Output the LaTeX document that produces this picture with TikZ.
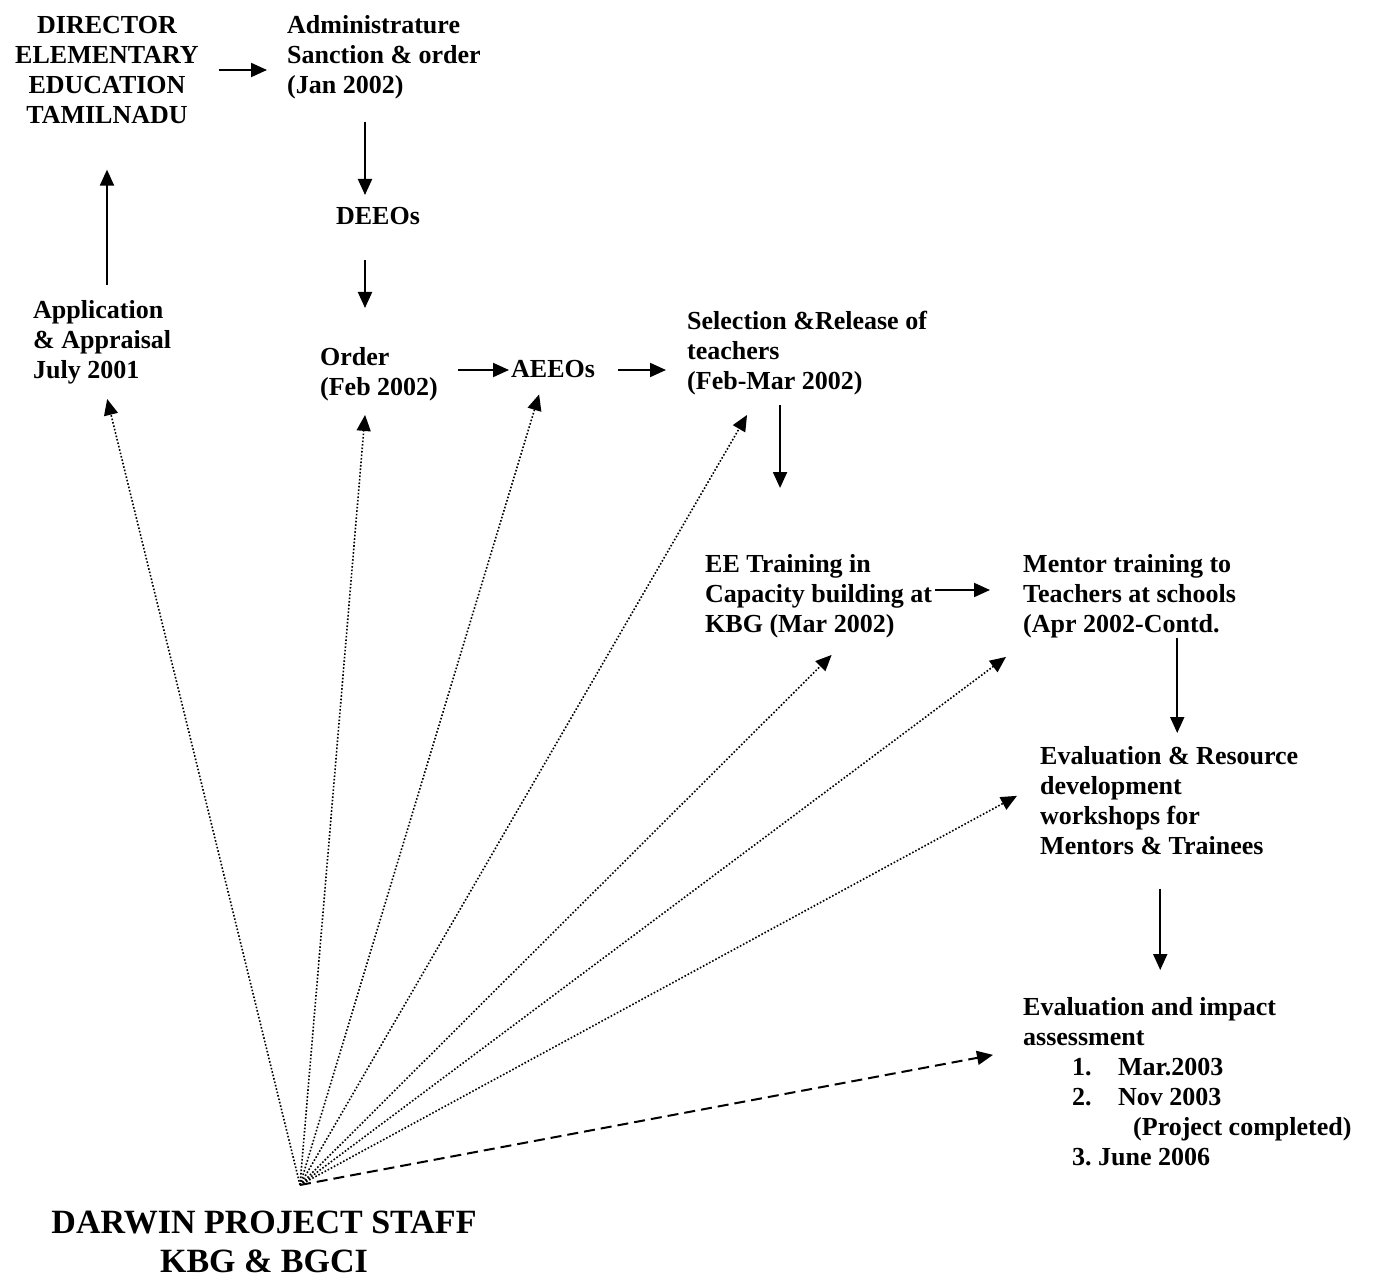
\documentclass[tikz,border=0pt]{standalone}
\usepackage{fontspec}
\setmainfont{Liberation Serif}
\usetikzlibrary{arrows.meta}
\begin{document}
\frenchspacing
\begin{tikzpicture}[x=1pt,y=-1pt,
  txt/.style={inner sep=0pt,align=left,anchor=north west,
    font=\fontsize{26}{30}\selectfont\bfseries},
  ctxt/.style={txt,align=center,anchor=north},
  big/.style={inner sep=0pt,align=center,anchor=north,
    font=\fontsize{34}{39}\selectfont\bfseries},
  tip/.style={-{Triangle[length=16pt,width=14pt]}},
  flow/.style={tip,line width=2pt},
  link/.style={tip,line width=1.6pt,dash pattern=on 1.6pt off 1.9pt},
  dlink/.style={tip,line width=2pt,dash pattern=on 11pt off 6pt}]
\useasboundingbox (0,0) rectangle (1377,1284);

% text blocks
\node[ctxt] (dir) at (107,12) {\strut DIRECTOR\\ELEMENTARY\\EDUCATION\\TAMILNADU};
\node[txt] (adm) at (287,12) {\strut Administrature\\Sanction \& order\\(Jan 2002)};
\node[ctxt] (deeo) at (378,203) {\strut DEEOs};
\node[txt] (app) at (33,297) {\strut Application\\\& Appraisal\\July 2001};
\node[txt] (order) at (320,344) {\strut Order\\(Feb 2002)};
\node[txt] (aeeo) at (511,356) {\strut AEEOs};
\node[txt] (sel) at (687,308) {\strut Selection \&Release of\\teachers\\(Feb-Mar 2002)};
\node[txt] (ee) at (705,551) {\strut EE Training in\\Capacity building at\\KBG (Mar 2002)};
\node[txt] (men) at (1023,551) {\strut Mentor training to\\Teachers at schools\\(Apr 2002-Contd.};
\node[txt] (evr) at (1040,743) {\strut Evaluation \& Resource\\development\\workshops for\\Mentors \& Trainees};
\node[txt] (eia) at (1023,994) {\strut Evaluation and impact\\assessment\\
  \hspace*{49pt}\makebox[46pt][l]{1.}Mar.2003\\
  \hspace*{49pt}\makebox[46pt][l]{2.}Nov 2003\\
  \hspace*{110pt}(Project completed)\\
  \hspace*{49pt}3. June 2006};
\node[big] (staff) at (264,1206) {\strut DARWIN PROJECT STAFF\\KBG \& BGCI};
\coordinate (fan) at (300,1185);

% process arrows
\draw[flow,shorten <=20pt,shorten >=20pt] (dir.east |- 0,70) -- (adm.west |- 0,70);
\draw[flow,shorten <=23pt,shorten >=8pt] ([xshift=-13pt]deeo.north |- adm.south) -- ([xshift=-13pt]deeo.north);
\draw[flow,shorten <=27pt,shorten >=36pt] ([xshift=-13pt]deeo.south) -- ([xshift=-13pt]deeo.south |- order.north);
\draw[flow,shorten <=12pt,shorten >=46pt] (dir.south |- app.north) -- (dir.south);
\draw[flow,shorten <=20pt,shorten >=2pt] (order.east |- 0,370) -- (aeeo.west |- 0,370);
\draw[flow,shorten <=23pt,shorten >=21pt] (aeeo.east |- 0,370) -- (sel.west |- 0,370);
\draw[flow,shorten <=10pt,shorten >=63pt] ([xshift=-27pt]sel.south) -- ([xshift=-27pt]sel.south |- ee.north);
\draw[flow,shorten <=3pt,shorten >=33pt] (ee.east |- 0,590) -- (men.west |- 0,590);
\draw[flow,shorten >=10pt] ([xshift=8pt]evr.north |- men.south) -- ([xshift=8pt]evr.north);
\draw[flow,shorten <=34pt,shorten >=24pt] ([xshift=-9pt]evr.south) -- ([xshift=-9pt]evr.south |- eia.north);

% staff links
\draw[link] (fan) -- ([shift={(5,15)}]app.south);
\draw[link] (fan) -- ([shift={(-14,14)}]order.south);
\draw[link] (fan) -- ([shift={(-14,8)}]aeeo.south);
\draw[link] (fan) -- ([shift={(-60,20)}]sel.south);
\draw[link] (fan) -- ([shift={(13,17)}]ee.south);
\draw[link] (fan) -- ([shift={(-17,19)}]men.south west);
\draw[link] (fan) -- ([shift={(-23,-3)}]evr.west);
\draw[dlink] (fan) -- ([shift={(-30,-25)}]eia.west);
\end{tikzpicture}
\end{document}
